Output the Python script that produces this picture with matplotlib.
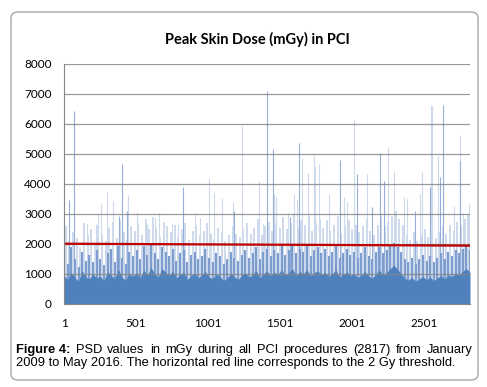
import numpy as np
import matplotlib.pyplot as plt
from matplotlib.patches import FancyBboxPatch

# PSD (mGy) of 2817 PCI procedures, read per block of ~25 procedures
n_procedures = 2817
dense_level = [950, 820, 1050, 880, 760, 1120, 900, 840, 1010, 870,
               930, 780, 1080, 960, 850, 1150, 890, 800, 1000, 920,
               1040, 880, 1130, 960, 1220, 1000, 900, 1180, 1060, 950,
               1100, 870, 990, 1060, 820, 940, 1030, 880, 960, 1090,
               900, 840, 1000, 930, 780, 870, 1020, 910, 820, 950,
               1050, 900, 980, 1120, 870, 1010, 1100, 940, 1060, 990,
               1130, 970, 1040, 1180, 960, 1080, 1000, 1150, 930, 1050,
               1100, 980, 1060, 920, 1010, 1140, 900, 990, 1070, 950,
               1020, 880, 960, 1090, 930, 860, 1000, 1120, 980, 1050,
               1180, 1300, 1150, 1020, 860, 800, 880, 760, 840, 920,
               810, 900, 780, 870, 950, 830, 980, 900, 1040, 960,
               1100, 1180, 1050]
mid_level = [1600, 1350, 1900, 1500, 1250, 1750, 1450, 1650, 1400, 1800,
             1500, 1300, 1700, 1850, 1400, 1950, 1550, 1350, 1750, 1600,
             1800, 1500, 1950, 1650, 2050, 1700, 1500, 1900, 1750, 1600,
             1850, 1450, 1700, 1800, 1400, 1650, 1750, 1500, 1600, 1850,
             1550, 1400, 1700, 1600, 1350, 1500, 1750, 1550, 1450, 1650,
             1800, 1550, 1700, 1900, 1500, 1750, 1850, 1600, 1800, 1700,
             1950, 1650, 1800, 2000, 1700, 1850, 1750, 1950, 1600, 1800,
             1900, 1700, 1850, 1600, 1750, 1950, 1550, 1700, 1850, 1650,
             1750, 1550, 1700, 1900, 1600, 1500, 1750, 1900, 1700, 1800,
             1950, 2050, 1900, 1750, 1500, 1400, 1550, 1350, 1500, 1650,
             1450, 1600, 1400, 1550, 1700, 1500, 1750, 1600, 1800, 1700,
             1850, 1950, 1800]
upper_level = [2600, 2100, 2400, 2200, 1900, 2700, 2300, 2500, 2000, 2650,
               2300, 2100, 2550, 2750, 2200, 2800, 2400, 2150, 2600, 2450,
               2700, 2300, 2850, 2500, 2900, 2550, 2250, 2750, 2600, 2400,
               2650, 2250, 2500, 2700, 2150, 2450, 2600, 2300, 2450, 2700,
               2350, 2150, 2550, 2400, 2100, 2300, 2600, 2350, 2250, 2500,
               2700, 2350, 2550, 2850, 2300, 2600, 2750, 2450, 2700, 2550,
               2900, 2500, 2700, 3000, 2550, 2800, 2650, 2950, 2450, 2700,
               2850, 2550, 2800, 2450, 2650, 2950, 2350, 2600, 2800, 2500,
               2650, 2400, 2600, 2850, 2450, 2300, 2650, 2900, 2600, 2750,
               2950, 3100, 2850, 2650, 2300, 2150, 2400, 2100, 2300, 2500,
               2250, 2450, 2200, 2400, 2600, 2350, 2650, 2450, 2750, 2600,
               2850, 3000, 2800]

# single procedures standing out above the bulk
bright_spike_proc = [35, 70, 380, 403, 440, 828, 1181, 1406, 1448, 1566,
                     1628, 1918, 2033, 2138, 2195, 2218, 2438, 2543, 2607,
                     2628, 2746]
bright_spike_dose = [3480, 6450, 2920, 4680, 3110, 3910, 3110, 7100, 5170, 2900,
                     5370, 4800, 4340, 3220, 5030, 4110, 3110, 3890, 4220,
                     6620, 4780]
faint_spike_proc = [8, 160, 222, 236, 260, 300, 340, 445, 505, 577,
                    632, 660, 750, 792, 910, 945, 1008, 1038, 1100, 1176,
                    1239, 1353, 1381, 1459, 1473, 1552, 1593, 1617, 1652, 1691,
                    1732, 1745, 1772, 1836, 1940, 1945, 1964, 2010, 2103, 2248,
                    2288, 2357, 2380, 2473, 2482, 2547, 2550, 2593, 2704, 2746,
                    2770, 2809]
faint_spike_dose = [2580, 2670, 2670, 3010, 3340, 3750, 3440, 3640, 3080, 2670,
                    2880, 3040, 2710, 2670, 3040, 2880, 4210, 3700, 3520, 3410,
                    5950, 4110, 2670, 3670, 3580, 3040, 3680, 3510, 4870, 4380,
                    4970, 4600, 4680, 3670, 3330, 3560, 3390, 6120, 4340, 5230,
                    4450, 3560, 3510, 3670, 4410, 6620, 6600, 4950, 3280, 5620,
                    3040, 3330]

threshold = [2010, 1945]
y_ticks = [0, 1000, 2000, 3000, 4000, 5000, 6000, 7000, 8000]
x_ticks = [1, 501, 1001, 1501, 2001, 2501]

blue = '#4F81BD'
grey = '#878787'

fig = plt.figure(figsize=(4.87, 3.87), dpi=100)
ax = fig.add_axes([64 / 487, 1 - 304 / 387, 406 / 487, 240 / 387])

x = np.linspace(1, n_procedures, len(dense_level))
half_block = (x[1] - x[0]) / 2
# streaks of the busiest procedures in each block
ax.vlines(x + half_block, 0, upper_level, color='#C6D3EA', lw=1.2, zorder=1)
ax.vlines(faint_spike_proc, 0, faint_spike_dose, color='#CDD9EC', lw=0.8, zorder=1)
ax.vlines(bright_spike_proc, 0, bright_spike_dose, color='#95AEDA', lw=0.8, zorder=1)
ax.vlines(x, 0, mid_level, color='#7E9DCF', lw=1.5, zorder=2)
ax.fill_between(x, 0, dense_level, color=blue, lw=0, zorder=2)

ax.plot([1, n_procedures], threshold, color='#C00000', lw=1.6, zorder=4)

ax.set_xlim(1, n_procedures)
ax.set_ylim(0, 8000)
ax.set_yticks(y_ticks)
ax.set_xticks(x_ticks)
ax.yaxis.grid(True, color=grey, lw=0.9, alpha=0.85, zorder=3)
ax.set_axisbelow(False)
for s in ['top', 'right']:
    ax.spines[s].set_visible(False)
ax.spines['left'].set_color(grey)
ax.spines['bottom'].set_color(grey)
ax.spines['left'].set_zorder(5)
ax.spines['bottom'].set_zorder(5)
ax.tick_params(length=0, labelsize=8.5, colors='black')
ax.tick_params(axis='y', pad=9)
ax.tick_params(axis='x', pad=10)
for lab in ax.get_xticklabels() + ax.get_yticklabels():
    lab.set_fontfamily('Lato')

fig.text(257 / 487, 1 - 39 / 387, 'Peak Skin Dose (mGy) in PCI', ha='center', va='center',
         fontsize=10.5, fontweight='bold', family='Lato')

# frame around chart + caption
frame = FancyBboxPatch((11 / 487, 1 - 380 / 387), 467 / 487, 368 / 387,
                       boxstyle='round,pad=0,rounding_size=0.015', transform=fig.transFigure,
                       fc='none', ec='#A6A6A6', lw=1.0)
fig.patches.append(frame)

# caption, first line justified
left, right = 16, 473
cap_size = 9.3
words = ['Figure 4:', 'PSD', 'values', 'in', 'mGy', 'during', 'all', 'PCI', 'procedures',
         '(2817)', 'from', 'January']
texts = []
for i, w in enumerate(words):
    t = fig.text(0, 1 - 350 / 387, w, ha='left', va='center', fontsize=cap_size,
                 family='Liberation Sans', fontweight='bold' if i == 0 else 'normal')
    texts.append(t)
fig.canvas.draw()
r = fig.canvas.get_renderer()
widths = [t.get_window_extent(r).width for t in texts]
gap = (right - left - sum(widths)) / (len(words) - 1)
pos = left
for t, wd in zip(texts, widths):
    t.set_x(pos / 487)
    pos += wd + gap
fig.text(left / 487, 1 - 363 / 387,
         '2009 to May 2016. The horizontal red line corresponds to the 2 Gy threshold.',
         ha='left', va='center', fontsize=cap_size, family='Liberation Sans')

fig.savefig('out.png', dpi=100)
